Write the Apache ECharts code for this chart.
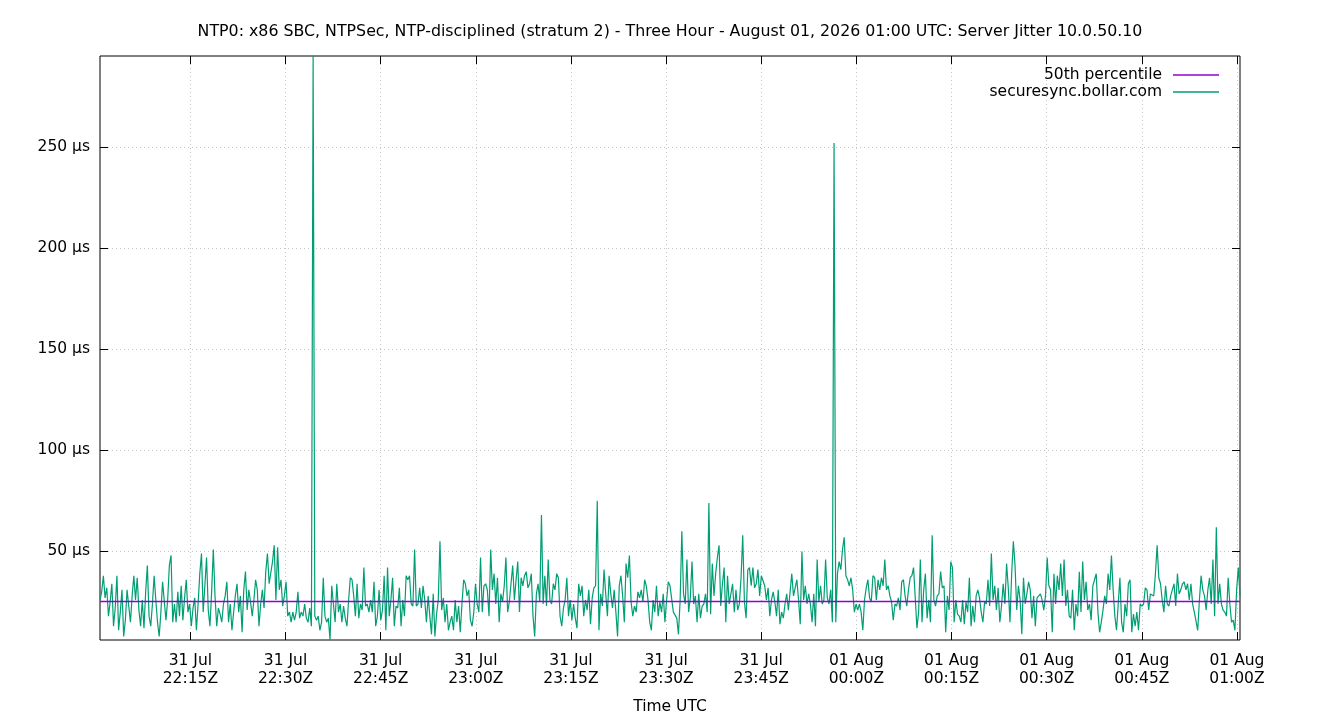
<!DOCTYPE html>
<html>
<head>
<meta charset="utf-8">
<title>Server Jitter 10.0.50.10</title>
<script src="https://cdn.jsdelivr.net/npm/echarts@6/dist/echarts.min.js"></script>
<style>
html, body { margin: 0; padding: 0; background: #fff; }
#chart { width: 1340px; height: 720px; }
</style>
</head>
<body>
<div id="chart"></div>
<script>
// NTP server jitter, three hour view (gnuplot style)
var titleText = 'NTP0: x86 SBC, NTPSec, NTP-disciplined (stratum 2) - Three Hour - August 01, 2026 01:00 UTC: Server Jitter 10.0.50.10';
var medianName = '50th percentile';
var jitterName = 'securesync.bollar.com';
var firstSample = '2026-07-31T22:00:45Z';
var sampleStepSec = 16;
var medianValue = 25.3;
var yTicks = [50, 100, 150, 200, 250];
var xTicks = [
    '2026-07-31T22:15:00Z', '2026-07-31T22:30:00Z', '2026-07-31T22:45:00Z',
    '2026-07-31T23:00:00Z', '2026-07-31T23:15:00Z', '2026-07-31T23:30:00Z',
    '2026-07-31T23:45:00Z', '2026-08-01T00:00:00Z', '2026-08-01T00:15:00Z',
    '2026-08-01T00:30:00Z', '2026-08-01T00:45:00Z', '2026-08-01T01:00:00Z'
];
var months = ['Jan', 'Feb', 'Mar', 'Apr', 'May', 'Jun', 'Jul', 'Aug', 'Sep', 'Oct', 'Nov', 'Dec'];

// jitter in microseconds, one sample every 16 s
var jitter = [
    // 22:00 - 22:30
    26,30,38,27,32,18,25,34,13,22, 38,11,20,31,8,16,31,23,15,28,
    38,26,37,21,13,26,12,30,43,18, 13,24,38,26,15,8,20,35,35,16,
    26,43,48,15,24,15,30,18,33,16, 27,36,20,24,13,22,27,11,24,39,
    49,20,33,47,21,13,30,51,
    28,13,22,19,15,24,28,35,15,24, 11,20,28,34,20,28,10,31,40,21,
    31,25,18,26,36,31,13,24,31,22, 40,49,34,34,45,53,26,52,31,36,
    23,28,35,18,
    // 22:30 - 23:00
    20,15,20,16,20,30,17,20,18,24, 17,15,22,13,295,18,16,18,11,15,
    37,18,15,17,6.2,33,24,15,34,20, 24,15,23,17,13,26,37,36,28,18,
    34,17,24,21,42,23,24,20,26,20, 35,13,18,31,16,21,38,11,42,18,
    26,37,13,23,22,32,13,26,18,38,36, 38,24,23,51,23,24,32,22,33,26,
    15,28,18,9,29,8,19,26,55,21, 27,15,24,11,15,18,11,26,15,23,
    10,24,36,34,28,31,16,13,20,34,24,
    // 23:00 - 23:30
    20,47,20,33,34,31,18,51,31, 39,24,37,15,29,25,33,47,20,25,
    34,43,26,36,45,20,37,33,38, 40,32,34,39,18,8,29,34,25,68,
    24,38,23,46,26,24,34,31,39,37, 18,13,22,26,37,18,26,16,24,17,
    12,34,28,33,18,26,21,31,14,27, 32,33,75,11,29,23,41,29,18,38,
    29,22,31,20,8,33,38,28,15,44, 37,48,25,18,23,20,30,27,31,25,
    36,33,26,15,11,26,20,33,18,25, 20,29,15,26,35,
    // 23:30 - 00:00
    33,33,20,20,17,9,26,60,29,24, 46,20,27,45,24,28,15,29,17,23,
    24,29,20,74,19,44,28,39,47,53, 23,34,42,15,38,24,24,34,20,
    31,21,24,37,58,25,17,41,42,33, 42,32,34,41,28,38,38,33,26,
    32,18,26,30,25,18,31,14,20, 17,24,29,21,30,39,28,32,36,26,
    14,50,26,33,24,29,24,15,29,13, 46,25,33,24,26,46,27,24,31,15,
    252,15,39,45,41,51,57,38,36,33, 37,31,20,24,21,24,
    // 00:00 - 00:30
    20,11,26,32,36,27,25,38,37,26, 36,31,37,33,46,31,33,28,
    25,16,24,23,27,21,35,36,28, 23,31,37,38,42,27,12,20,46,15,
    31,39,17,26,15,58,26,23,28,29, 40,32,33,10,28,21,45,42,15,26,
    19,18,15,26,14,25,20,37,13, 23,15,28,31,27,20,15,25,24,
    36,23,49,26,33,21,32,15,23,34, 24,44,32,15,39,55,43,21,33,26,
    9,37,24,29,35,31,17,28,13,27, 28,29,26,21,28,47,33,
    // 00:30 - 01:00
    31,10,39,24,38,31,44,28,46,23, 31,18,17,31,11,24,18,40,20,
    45,26,35,21,24,16,33,36,39,20, 10,15,21,28,24,39,31,48,31,18,
    11,24,37,15,10,24,18,34,36,10, 19,13,20,11,24,23,24,32,31,21,
    29,29,28,39,53,37,34,26,20,33, 24,23,28,31,34,23,39,29,31,
    34,35,31,34,26,34,24,20,20,11, 26,38,31,28,21,31,37,24,46,18,
    62,24,34,24,21,20,18,37,24,15, 16,11,31,42,28
];

var t0 = Date.parse(firstSample);
var jitterData = jitter.map(function (v, i) {
    return [t0 + i * sampleStepSec * 1000, v];
});
var xMin = jitterData[0][0];
var xMax = jitterData[jitterData.length - 1][0];
var yMin = Math.min.apply(null, jitter);
var yMax = Math.max.apply(null, jitter);
var xTickValues = xTicks.map(function (s) { return Date.parse(s); });
var medianData = [[xMin, medianValue], [xMax, medianValue]];

function pad(n) { return (n < 10 ? '0' : '') + n; }
function fmtTime(ms) {
    var d = new Date(ms);
    return pad(d.getUTCDate()) + ' ' + months[d.getUTCMonth()] + '\n' +
        pad(d.getUTCHours()) + ':' + pad(d.getUTCMinutes()) + 'Z';
}

var font = 'DejaVu Sans';
var fs = 15.5;
var gridLine = { show: true, lineStyle: { color: '#c4c4c4', width: 1, type: [1, 3] } };
var tickStyle = { color: '#000', width: 1 };

var myChart = echarts.init(document.getElementById('chart'));
var option = {
    animation: false,
    backgroundColor: '#fff',
    color: ['#9400d3', '#009e73'],
    textStyle: { fontFamily: font },
    title: {
        text: titleText,
        left: 'center',
        top: 19,
        textStyle: { fontFamily: font, fontSize: 15.8, fontWeight: 'normal', color: '#000' }
    },
    legend: {
        orient: 'vertical',
        align: 'right',
        right: 116,
        top: 62,
        icon: 'rect',
        itemWidth: 46,
        itemHeight: 1.5,
        itemGap: 1,
        data: [medianName, jitterName],
        textStyle: { fontFamily: font, fontSize: fs, color: '#000', padding: [0, 6, 0, 0] }
    },
    grid: {
        left: 100,
        right: 100,
        top: 56,
        bottom: 79,
        show: true,
        borderColor: '#000',
        borderWidth: 1
    },
    xAxis: [{
        type: 'value',
        min: xMin,
        max: xMax,
        name: 'Time UTC',
        nameLocation: 'middle',
        nameGap: 59,
        nameTextStyle: { fontFamily: font, fontSize: fs, color: '#000' },
        axisLine: { show: false },
        axisTick: { show: true, inside: true, length: 8, customValues: xTickValues, lineStyle: tickStyle },
        axisLabel: {
            customValues: xTickValues,
            formatter: fmtTime,
            margin: 12,
            lineHeight: 18,
            fontFamily: font,
            fontSize: fs,
            color: '#000'
        },
        splitLine: gridLine
    }, {
        type: 'value',
        position: 'top',
        min: xMin,
        max: xMax,
        axisLine: { show: false },
        axisTick: { show: true, inside: true, length: 8, customValues: xTickValues, lineStyle: tickStyle },
        axisLabel: { show: false },
        splitLine: { show: false }
    }],
    yAxis: [{
        type: 'value',
        min: yMin,
        max: yMax,
        axisLine: { show: false },
        axisTick: { show: true, inside: true, length: 8, customValues: yTicks, lineStyle: tickStyle },
        axisLabel: {
            customValues: yTicks,
            formatter: function (v) { return v + ' µs'; },
            margin: 10,
            fontFamily: font,
            fontSize: fs,
            color: '#000'
        },
        splitLine: gridLine
    }, {
        type: 'value',
        position: 'right',
        min: yMin,
        max: yMax,
        axisLine: { show: false },
        axisTick: { show: true, inside: true, length: 8, customValues: yTicks, lineStyle: tickStyle },
        axisLabel: { show: false },
        splitLine: { show: false }
    }],
    series: [{
        name: jitterName,
        type: 'line',
        data: jitterData,
        symbol: 'none',
        showSymbol: false,
        lineStyle: { color: '#009e73', width: 1.2 },
        itemStyle: { color: '#009e73' },
        z: 2
    }, {
        name: medianName,
        type: 'line',
        data: medianData,
        symbol: 'none',
        showSymbol: false,
        silent: true,
        emphasis: { disabled: true },
        lineStyle: { color: '#9400d3', width: 1.5, opacity: 1 },
        itemStyle: { color: '#9400d3' },
        z: 5
    }]
};
myChart.setOption(option);
</script>
</body>
</html>
